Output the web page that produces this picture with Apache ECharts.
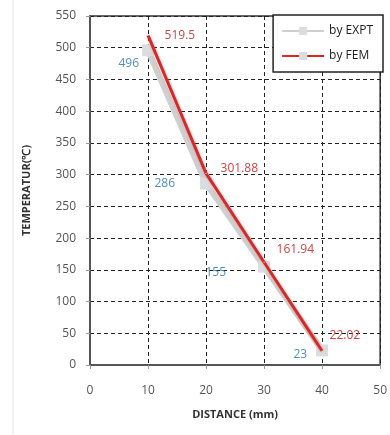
<!DOCTYPE html>
<html>
<head>
<meta charset="utf-8">
<script src="https://cdn.jsdelivr.net/npm/echarts@6/dist/echarts.min.js"></script>
<style>html,body{margin:0;padding:0;background:#fff;}#c{width:390px;height:435px;}</style>
</head>
<body>
<div id="c"></div>
<script>
const distances = [10, 20, 30, 40];
const exptValues = [496, 286, 155, 23];
const femValues = [519.5, 301.88, 161.94, 22.02];
const xTicks = [0, 10, 20, 30, 40, 50];
const yTicks = [0, 50, 100, 150, 200, 250, 300, 350, 400, 450, 500, 550];

// label offsets (style only)
const exptLabelOffsets = [[2, 13], [-20, 0], [-27, 6], [-4, 4]];
const femLabelOffsets = [[11, 0], [9, -5], [7, -13], [2, -15]];

const font = 'Open Sans, Liberation Sans, sans-serif';
const chart = echarts.init(document.getElementById('c'));
chart.setOption({
  animation: false,
  backgroundColor: '#fff',
  graphic: [{ type: 'line', shape: { x1: 13, y1: 0, x2: 13, y2: 435 }, style: { stroke: '#e4e4e4', lineWidth: 1 } }],
  grid: { left: 90, right: 7, top: 16, bottom: 70, show: true, borderColor: '#333', borderWidth: 1.5, backgroundColor: 'transparent' },
  legend: {
    right: 7, top: 15, orient: 'vertical', itemGap: 13,
    padding: [10, 10, 10, 8],
    borderColor: '#222', borderWidth: 1.5, backgroundColor: '#fff',
    itemWidth: 42, itemHeight: 10,
    textStyle: { fontFamily: font, fontSize: 12, color: '#222' },
    data: ['by EXPT', 'by FEM']
  },
  xAxis: {
    type: 'value', min: xTicks[0], max: xTicks[xTicks.length - 1], interval: 10,
    name: 'DISTANCE (mm)', nameLocation: 'middle', nameGap: 44,
    nameTextStyle: { fontFamily: font, fontSize: 11, fontWeight: 'bold', color: '#333' },
    axisLine: { show: true, lineStyle: { color: '#555', width: 2 } },
    axisTick: { show: true, length: 4, lineStyle: { color: '#999' } },
    axisLabel: { fontFamily: font, fontSize: 12, color: '#555', margin: 20 },
    splitLine: { show: true, lineStyle: { type: [4, 3], color: '#222', width: 1 } }
  },
  yAxis: {
    type: 'value', min: yTicks[0], max: yTicks[yTicks.length - 1], interval: 50,
    name: 'TEMPERATUR(℃)', nameLocation: 'middle', nameGap: 58,
    nameTextStyle: { fontFamily: font, fontSize: 11, fontWeight: 'bold', color: '#333' },
    axisLine: { show: true, lineStyle: { color: '#555', width: 2 } },
    axisTick: { show: true, length: 4, inside: false, lineStyle: { color: '#999' } },
    axisLabel: { fontFamily: font, fontSize: 12, color: '#555', margin: 14 },
    splitLine: { show: true, lineStyle: { type: [4, 3], color: '#222', width: 1 } }
  },
  series: [
    {
      name: 'by EXPT', type: 'line',
      data: distances.map((d, i) => ({ value: [d, exptValues[i]], label: { offset: exptLabelOffsets[i] } })),
      lineStyle: { color: '#cfcfcf', width: 6 },
      itemStyle: { color: '#d9dde0' },
      symbol: 'rect', symbolSize: 12,
      label: { show: true, position: 'left', fontFamily: font, fontSize: 12, color: '#4f8fbf',
        formatter: p => String(p.value[1]) },
      z: 2
    },
    {
      name: 'by FEM', type: 'line',
      data: distances.map((d, i) => ({ value: [d, femValues[i]], label: { offset: femLabelOffsets[i] } })),
      lineStyle: { color: '#d42a2a', width: 3, shadowColor: 'rgba(230,120,120,0.6)', shadowBlur: 3 },
      itemStyle: { color: '#d9dde0' },
      symbol: 'rect', symbolSize: 1,
      label: { show: true, position: 'right', fontFamily: font, fontSize: 12, color: '#cc4444',
        formatter: p => String(p.value[1]) },
      z: 3
    }
  ]
});
</script>
</body>
</html>
